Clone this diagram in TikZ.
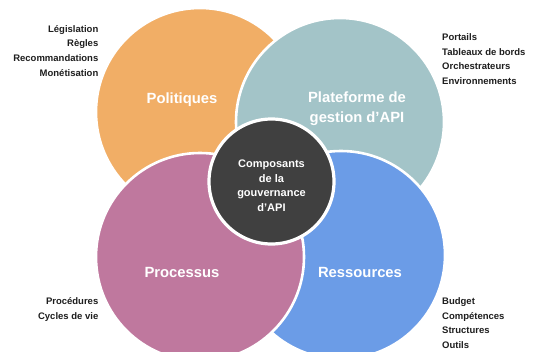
\documentclass[tikz,border=0pt]{standalone}
\usepackage{fontspec}
\setmainfont{Liberation Sans}
\definecolor{cOrange}{HTML}{F1AE66}
\definecolor{cTeal}{HTML}{A3C4C8}
\definecolor{cPink}{HTML}{BF789E}
\definecolor{cBlue}{HTML}{6B9CE7}
\definecolor{cDark}{HTML}{404040}
\definecolor{cText}{HTML}{1E1E1E}
\begin{document}
\begin{tikzpicture}[x=1pt,y=-1pt,
  bigc/.style={circle,draw=white,line width=2.6pt,minimum size=208pt,inner sep=0pt},
  midc/.style={circle,draw=white,line width=3.2pt,minimum size=125pt,inner sep=0pt,fill=cDark},
  lab/.style={text=white,font=\bfseries\fontsize{14.8}{20}\selectfont,inner sep=0pt,anchor=base},
  ctext/.style={text=white,font=\bfseries\fontsize{11}{14}\selectfont,inner sep=0pt,anchor=base},
  litemR/.style={text=cText,font=\bfseries\fontsize{9.5}{12}\selectfont,inner sep=0pt,anchor=base east},
  litemL/.style={text=cText,font=\bfseries\fontsize{9.5}{12}\selectfont,inner sep=0pt,anchor=base west}]
\useasboundingbox (0,0) rectangle (541,351);
\clip (0,0) rectangle (541,351);
\fill[white] (0,0) rectangle (541,351);
% circles
\node[bigc,fill=cOrange] (pol) at (200,112) {};
\node[bigc,fill=cTeal] (plat) at (340,122) {};
\node[bigc,fill=cBlue] (res) at (341,255) {};
\node[bigc,fill=cPink] (proc) at (200,257) {};
\node[midc] (core) at (271.5,181.5) {};
% circle labels
\node[lab] (tpol) at (182,103.5) {Politiques};
\node[lab] (tplat1) at (357,102) {Plateforme de};
\node[lab] (tplat2) at (357,122) {gestion d’API};
\node[lab] (tproc) at (182,277.5) {Processus};
\node[lab] (tres) at (360,277.5) {Ressources};
% center
\node[ctext] (c1) at (271.5,167) {Composants};
\node[ctext] (c2) at (271.5,182) {de la};
\node[ctext] (c3) at (271.5,196.5) {gouvernance};
\node[ctext] (c4) at (271.5,211.5) {d’API};
% lists
\node[litemR] (l1) at (98.5,32) {Législation};
\node[litemR] (l2) at (98.5,46.5) {Règles};
\node[litemR] (l3) at (98.5,61.5) {Recommandations};
\node[litemR] (l4) at (98.5,76) {Monétisation};
\node[litemL] (r1) at (442,40.5) {Portails};
\node[litemL] (r2) at (442,55) {Tableaux de bords};
\node[litemL] (r3) at (442,69.5) {Orchestrateurs};
\node[litemL] (r4) at (442,84) {Environnements};
\node[litemR] (p1) at (98.5,304.5) {Procédures};
\node[litemR] (p2) at (98.5,319) {Cycles de vie};
\node[litemL] (b1) at (442,304.5) {Budget};
\node[litemL] (b2) at (442,319) {Compétences};
\node[litemL] (b3) at (442,333.5) {Structures};
\node[litemL] (b4) at (442,348) {Outils};
\end{tikzpicture}
\end{document}
